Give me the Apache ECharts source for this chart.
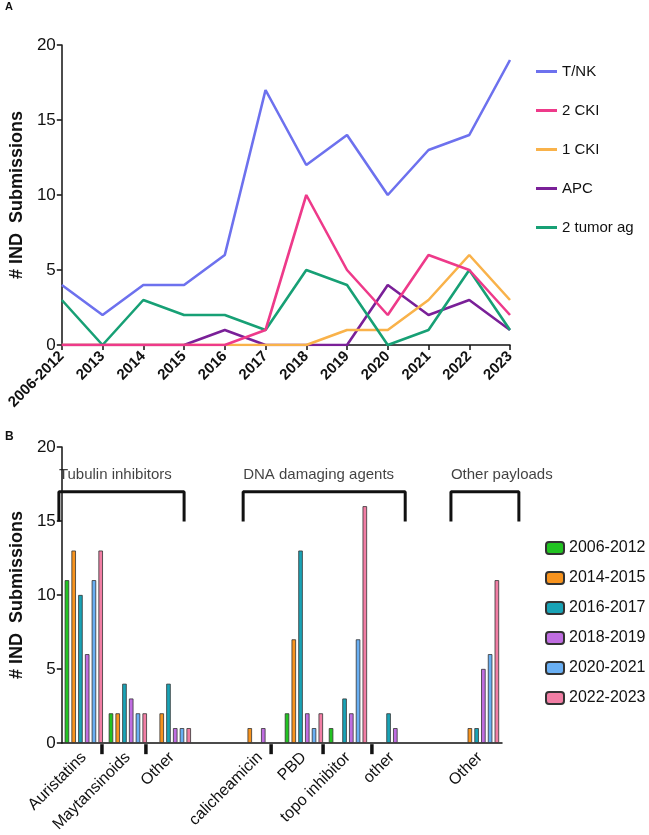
<!DOCTYPE html>
<html lang="en">
<head>
    <meta charset="UTF-8">
    <title>IND submissions</title>
    <style>
        html, body { margin: 0; padding: 0; background: #fff; }
    </style>
</head>
<body>
    <div id="main" style="width:649px; height:835px;"></div>
    <script src="https://cdn.jsdelivr.net/npm/echarts@6/dist/echarts.min.js"></script>
    <script>
    // panel A data
    var years = ['2006-2012', '2013', '2014', '2015', '2016', '2017', '2018', '2019', '2020', '2021', '2022', '2023'];
    var tnk = [4, 2, 4, 4, 6, 17, 12, 14, 10, 13, 14, 19];
    var cki2 = [0, 0, 0, 0, 0, 1, 10, 5, 2, 6, 5, 2];
    var cki1 = [0, 0, 0, 0, 0, 0, 0, 1, 1, 3, 6, 3];
    var apc = [0, 0, 0, 0, 1, 0, 0, 0, 4, 2, 3, 1];
    var tumorAg2 = [3, 0, 3, 2, 2, 1, 5, 4, 0, 1, 5, 1];

    // panel B data (two empty slots act as spacers between payload classes)
    var payloads = ['Auristatins', 'Maytansinoids', 'Other', '', 'calicheamicin', 'PBD', 'topo inhibitor', 'other', '', 'Other'];
    var p2006_2012 = [11, 2, null, null, null, 2, 1, null, null, null];
    var p2014_2015 = [13, 2, 2, null, 1, 7, null, null, null, 1];
    var p2016_2017 = [10, 4, 4, null, null, 13, 3, 2, null, 1];
    var p2018_2019 = [6, 3, 1, null, 1, 2, 2, 1, null, 5];
    var p2020_2021 = [11, 2, 1, null, null, 1, 7, null, null, 6];
    var p2022_2023 = [13, 2, 1, null, null, 2, 16, null, null, 11];
    var periods = ['2006-2012', '2014-2015', '2016-2017', '2018-2019', '2020-2021', '2022-2023'];

    // payload classes: label, start slot, end slot (slot units along the x axis)
    var classNames = ['Tubulin inhibitors', 'DNA damaging agents', 'Other payloads'];
    var classSpans = [[0.02, 2.84], [4.17, 7.82], [8.85, 10.38]];
    // separator ticks between payload types
    var dividerTicks = [0.99, 1.98, 4.8, 5.97, 7.07];

    var lineColors = ['#6d71ee', '#ee3a8a', '#f9b24a', '#7a2098', '#17a075'];
    var barColors = ['#22c322', '#f7931e', '#19a3b6', '#bf6de0', '#69aff3', '#f17ea4'];

    var chart = echarts.init(document.getElementById('main'));

    var font = 'Liberation Sans, Arial, sans-serif';

    function lineSeries(name, data, color, z) {
        return {
            name: name,
            type: 'line',
            xAxisIndex: 0,
            yAxisIndex: 0,
            data: data,
            showSymbol: false,
            symbol: 'none',
            z: z,
            lineStyle: { color: color, width: 2.6 },
            itemStyle: { color: color }
        };
    }

    var barSeries = [];
    var barData = [p2006_2012, p2014_2015, p2016_2017, p2018_2019, p2020_2021, p2022_2023];
    for (var i = 0; i < periods.length; i++) {
        barSeries.push({
            name: periods[i],
            type: 'bar',
            xAxisIndex: 1,
            yAxisIndex: 1,
            data: barData[i],
            barWidth: 4.5,
            barGap: '50%',
            itemStyle: { color: barColors[i], borderColor: '#333', borderWidth: 0.8 }
        });
    }

    // bracket lines and their titles, on an overlay grid with the same scale
    var bracketSeries = [];
    for (var k = 0; k < classSpans.length; k++) {
        var a = classSpans[k][0], b = classSpans[k][1];
        bracketSeries.push({
            type: 'line',
            xAxisIndex: 2,
            yAxisIndex: 2,
            symbol: 'none',
            silent: true,
            lineStyle: { color: '#111', width: 3 },
            data: [[a, 15], [a, 17], [b, 17], [b, 15]]
        });
        bracketSeries.push({
            type: 'scatter',
            xAxisIndex: 2,
            yAxisIndex: 2,
            symbolSize: 0,
            silent: true,
            label: {
                show: true,
                position: 'right',
                distance: 0,
                formatter: classNames[k],
                color: '#111',
                fontSize: 15,
                fontFamily: font
            },
            data: [[a, 18.1]]
        });
    }
    var tickData = [];
    for (var t = 0; t < dividerTicks.length; t++) {
        tickData.push([dividerTicks[t], -0.28]);
    }
    bracketSeries.push({
        type: 'scatter',
        xAxisIndex: 2,
        yAxisIndex: 2,
        symbol: 'rect',
        symbolSize: [3.5, 10],
        silent: true,
        itemStyle: { color: '#111', opacity: 1 },
        data: tickData
    });

    var option = {
        animation: false,
        textStyle: { fontFamily: font },
        graphic: [
            { type: 'text', left: 5, top: 1, style: { text: 'A', font: 'bold 11px ' + font, fill: '#111' } },
            { type: 'text', left: 5, top: 431, style: { text: 'B', font: 'bold 12px ' + font, fill: '#111' } }
        ],
        legend: [
            {
                orient: 'vertical',
                left: 531,
                top: 59,
                itemWidth: 21,
                itemHeight: 3,
                itemGap: 24,
                icon: 'rect',
                textStyle: { fontSize: 15, color: '#111', fontFamily: font },
                data: ['T/NK', '2 CKI', '1 CKI', 'APC', '2 tumor ag']
            },
            {
                orient: 'vertical',
                left: 540,
                top: 535,
                itemWidth: 18,
                itemHeight: 12,
                itemGap: 14,
                textStyle: { fontSize: 16, color: '#111', fontFamily: font },
                data: periods
            }
        ],
        grid: [
            { left: 59, top: 45, width: 451, height: 300 },
            { left: 58, top: 447, width: 444, height: 298 },
            // overlay: x 0..11 slots, y -1..20, same pixel scale as grid 1
            { left: 58, top: 447, width: 488.4, height: 312.9 }
        ],
        xAxis: [
            {
                gridIndex: 0,
                type: 'category',
                data: years,
                boundaryGap: false,
                axisLine: { lineStyle: { color: '#111', width: 1.5 } },
                axisTick: { length: 5, lineStyle: { color: '#111', width: 1.5 } },
                axisLabel: { rotate: 45, fontSize: 15, fontWeight: 'bold', color: '#111', margin: 9, interval: 0 }
            },
            {
                gridIndex: 1,
                type: 'category',
                data: payloads,
                axisLine: { lineStyle: { color: '#111', width: 1.5 } },
                axisTick: { show: false },
                axisLabel: { rotate: 45, fontSize: 16, color: '#111', margin: 12, interval: 0 }
            },
            {
                gridIndex: 2,
                type: 'value',
                min: 0,
                max: 11,
                show: false
            }
        ],
        yAxis: [
            {
                gridIndex: 0,
                type: 'value',
                min: 0,
                max: 20,
                interval: 5,
                name: '# IND  Submissions',
                nameLocation: 'middle',
                nameGap: 34,
                nameTextStyle: { fontSize: 18, fontWeight: 'bold', color: '#111' },
                splitLine: { show: false },
                axisLine: { show: true, lineStyle: { color: '#111', width: 1.5 } },
                axisTick: { show: true, length: 5, lineStyle: { color: '#111', width: 1.5 } },
                axisLabel: { fontSize: 17, color: '#111', margin: 6 }
            },
            {
                gridIndex: 1,
                type: 'value',
                min: 0,
                max: 20,
                interval: 5,
                name: '# IND  Submissions',
                nameLocation: 'middle',
                nameGap: 34,
                nameTextStyle: { fontSize: 18, fontWeight: 'bold', color: '#111' },
                splitLine: { show: false },
                axisLine: { show: true, lineStyle: { color: '#111', width: 1.5 } },
                axisTick: { show: true, length: 5, lineStyle: { color: '#111', width: 1.5 } },
                axisLabel: { fontSize: 17, color: '#111', margin: 6 }
            },
            {
                gridIndex: 2,
                type: 'value',
                min: -1,
                max: 20,
                show: false
            }
        ],
        series: [
            lineSeries('T/NK', tnk, lineColors[0], 6),
            lineSeries('2 CKI', cki2, lineColors[1], 5),
            lineSeries('1 CKI', cki1, lineColors[2], 4),
            lineSeries('APC', apc, lineColors[3], 3),
            lineSeries('2 tumor ag', tumorAg2, lineColors[4], 4)
        ].concat(barSeries).concat(bracketSeries)
    };

    chart.setOption(option);
    </script>
</body>
</html>
